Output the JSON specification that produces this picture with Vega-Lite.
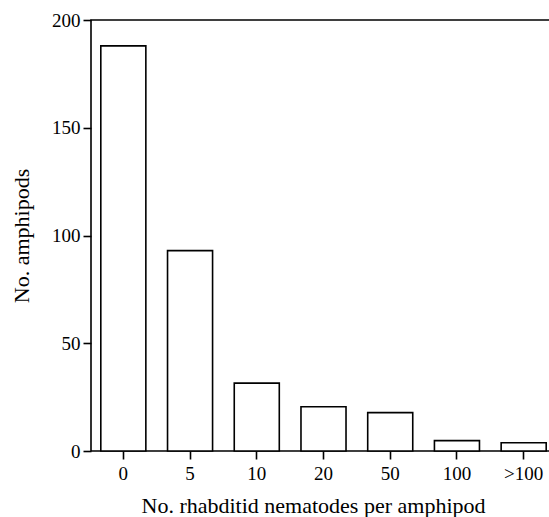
{
  "$schema": "https://vega.github.io/schema/vega-lite/v6.json",
  "autosize": {"type": "none"},
  "padding": {"left": 91, "top": 20, "right": 0, "bottom": 66},
  "width": 465,
  "height": 431,
  "background": "white",
  "config": {
    "view": {"stroke": "black", "strokeWidth": 1.6},
    "font": "Liberation Serif",
    "axis": {
      "grid": false,
      "domain": false,
      "tickColor": "black",
      "tickWidth": 1.6,
      "tickSize": 8,
      "labelFont": "Liberation Serif",
      "labelFontSize": 19,
      "labelColor": "black",
      "titleFont": "Liberation Serif",
      "titleFontSize": 22,
      "titleFontWeight": "normal",
      "titleColor": "black"
    }
  },
  "data": {
    "values": [
      {"nematodes": "0", "amphipods": 188},
      {"nematodes": "5", "amphipods": 93},
      {"nematodes": "10", "amphipods": 31.5},
      {"nematodes": "20", "amphipods": 20.5},
      {"nematodes": "50", "amphipods": 17.8},
      {"nematodes": "100", "amphipods": 4.8},
      {"nematodes": ">100", "amphipods": 3.8}
    ]
  },
  "mark": {"type": "bar", "fill": "white", "stroke": "black", "strokeWidth": 1.6},
  "encoding": {
    "x": {
      "field": "nematodes",
      "type": "nominal",
      "sort": null,
      "scale": {"paddingInner": 0.325, "paddingOuter": 0.147},
      "axis": {"title": "No. rhabditid nematodes per amphipod", "labelAngle": 0, "labelPadding": 5, "titlePadding": 12, "titleX": 222}
    },
    "y": {
      "field": "amphipods",
      "type": "quantitative",
      "scale": {"domain": [0, 200], "nice": false},
      "axis": {"title": "No. amphipods", "values": [0, 50, 100, 150, 200], "labelPadding": 3, "titlePadding": 18}
    }
  }
}
